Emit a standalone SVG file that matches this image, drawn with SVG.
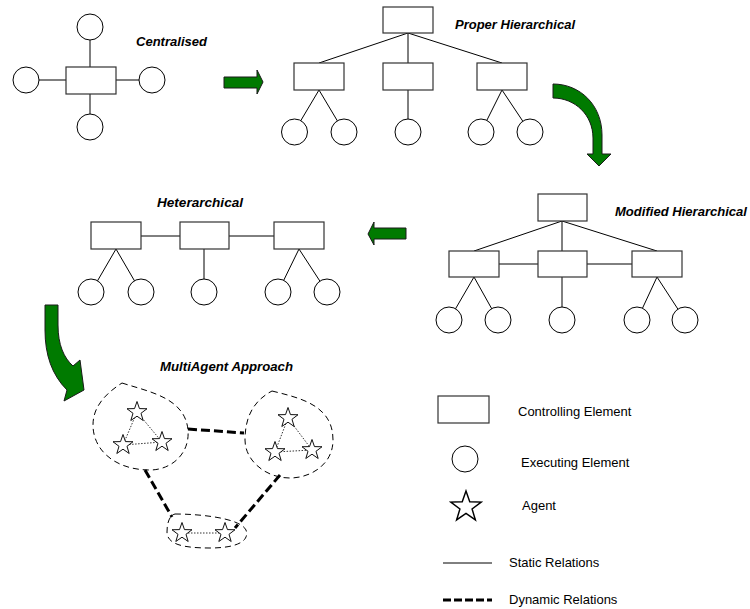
<svg xmlns="http://www.w3.org/2000/svg" width="750" height="609" viewBox="0 0 750 609">
<style>
  .ctl { fill: #fff; stroke: #333; stroke-width: 1.2; }
  .exe { fill: #fff; stroke: #000; stroke-width: 1; }
  .rel { stroke: #000; stroke-width: 1; fill: none; }
  .dyn { stroke: #000; stroke-width: 3; stroke-dasharray: 9 4; fill: none; }
  .grp { stroke: #000; stroke-width: 1; stroke-dasharray: 6 4; fill: none; }
  .dot { stroke: #000; stroke-width: 0.8; stroke-dasharray: 1.5 1.5; fill: none; }
  .agent { fill: #fff; stroke: #000; stroke-width: 0.9; }
  .flow { fill: #007a00; stroke: #1a1a1a; stroke-width: 1; }
  .title { font-family: "Liberation Sans", Arial, sans-serif; font-size: 13px; font-weight: bold; font-style: italic; fill: #000; }
  .lbl { font-family: "Liberation Sans", Arial, sans-serif; font-size: 13px; fill: #000; }
</style>
<defs>
  <polygon id="star" points="0,-10 2.35,-3.24 9.51,-3.09 3.8,1.24 5.88,8.09 0,4 -5.88,8.09 -3.8,1.24 -9.51,-3.09 -2.35,-3.24"/>
</defs>

<!-- static relations (drawn under the elements) -->
<g id="connectors">
  <!-- centralised -->
  <line class="rel" x1="90" y1="40" x2="90" y2="67"/>
  <line class="rel" x1="90" y1="94" x2="90" y2="114"/>
  <line class="rel" x1="39" y1="80" x2="66" y2="80"/>
  <line class="rel" x1="116" y1="80" x2="139" y2="80"/>
  <!-- proper hierarchical -->
  <line class="rel" x1="408" y1="33" x2="319" y2="63"/>
  <line class="rel" x1="408" y1="33" x2="408" y2="63"/>
  <line class="rel" x1="408" y1="33" x2="502" y2="63"/>
  <line class="rel" x1="319" y1="90" x2="294" y2="132"/>
  <line class="rel" x1="319" y1="90" x2="344" y2="132"/>
  <line class="rel" x1="408" y1="90" x2="408" y2="132"/>
  <line class="rel" x1="502" y1="90" x2="481" y2="132"/>
  <line class="rel" x1="502" y1="90" x2="530" y2="132"/>
  <!-- modified hierarchical -->
  <line class="rel" x1="562" y1="221" x2="474" y2="251"/>
  <line class="rel" x1="562" y1="221" x2="562" y2="251"/>
  <line class="rel" x1="562" y1="221" x2="657" y2="251"/>
  <line class="rel" x1="499" y1="264" x2="538" y2="264"/>
  <line class="rel" x1="587" y1="264" x2="632" y2="264"/>
  <line class="rel" x1="474" y1="277" x2="449" y2="320"/>
  <line class="rel" x1="474" y1="277" x2="498" y2="320"/>
  <line class="rel" x1="562" y1="277" x2="562" y2="320"/>
  <line class="rel" x1="657" y1="277" x2="637" y2="320"/>
  <line class="rel" x1="657" y1="277" x2="685" y2="320"/>
  <!-- heterarchical -->
  <line class="rel" x1="141" y1="236" x2="180" y2="236"/>
  <line class="rel" x1="229" y1="236" x2="274" y2="236"/>
  <line class="rel" x1="116" y1="249" x2="91" y2="292"/>
  <line class="rel" x1="116" y1="249" x2="141" y2="292"/>
  <line class="rel" x1="204" y1="249" x2="204" y2="292"/>
  <line class="rel" x1="299" y1="249" x2="278" y2="292"/>
  <line class="rel" x1="299" y1="249" x2="327" y2="292"/>
  <!-- multi-agent: dynamic relations between groups -->
  <line class="dyn" x1="188" y1="429" x2="244" y2="433"/>
  <line class="dyn" x1="145" y1="470" x2="172" y2="517"/>
  <line class="dyn" x1="280" y1="475" x2="235" y2="528"/>
  <!-- multi-agent: links inside groups -->
  <polyline class="dot" points="137,412 123,445 162,442 137,412"/>
  <polyline class="dot" points="288,418 275,452 312,450 288,418"/>
  <line class="dot" x1="182" y1="533" x2="225" y2="533"/>
</g>

<!-- centralised -->
<g id="centralised">
  <rect class="ctl" x="66" y="67" width="50" height="27"/>
  <circle class="exe" cx="90" cy="27" r="13"/>
  <circle class="exe" cx="90" cy="127" r="13"/>
  <circle class="exe" cx="26" cy="80" r="13"/>
  <circle class="exe" cx="152" cy="80" r="13"/>
  <text class="title" x="136" y="46" textLength="71" lengthAdjust="spacingAndGlyphs">Centralised</text>
</g>

<!-- proper hierarchical -->
<g id="proper-hierarchical">
  <rect class="ctl" x="383" y="7" width="50" height="26"/>
  <rect class="ctl" x="294" y="63" width="50" height="27"/>
  <rect class="ctl" x="383" y="63" width="50" height="27"/>
  <rect class="ctl" x="477" y="63" width="50" height="27"/>
  <circle class="exe" cx="294.5" cy="132" r="13"/>
  <circle class="exe" cx="344" cy="132" r="13"/>
  <circle class="exe" cx="408" cy="132" r="13"/>
  <circle class="exe" cx="481" cy="132" r="13"/>
  <circle class="exe" cx="530" cy="132" r="13"/>
  <text class="title" x="455" y="29" textLength="120" lengthAdjust="spacingAndGlyphs">Proper Hierarchical</text>
</g>

<!-- modified hierarchical -->
<g id="modified-hierarchical">
  <rect class="ctl" x="538" y="194" width="49" height="27"/>
  <rect class="ctl" x="449" y="251" width="50" height="26"/>
  <rect class="ctl" x="538" y="251" width="49" height="26"/>
  <rect class="ctl" x="632" y="251" width="50" height="26"/>
  <circle class="exe" cx="449" cy="320" r="13"/>
  <circle class="exe" cx="498" cy="320" r="13"/>
  <circle class="exe" cx="562" cy="320" r="13"/>
  <circle class="exe" cx="637" cy="320" r="13"/>
  <circle class="exe" cx="685" cy="320" r="13"/>
  <text class="title" x="615" y="216" textLength="132" lengthAdjust="spacingAndGlyphs">Modified Hierarchical</text>
</g>

<!-- heterarchical -->
<g id="heterarchical">
  <rect class="ctl" x="91" y="222" width="50" height="27"/>
  <rect class="ctl" x="180" y="222" width="49" height="27"/>
  <rect class="ctl" x="274" y="222" width="50" height="27"/>
  <circle class="exe" cx="91" cy="292" r="13"/>
  <circle class="exe" cx="141" cy="292" r="13"/>
  <circle class="exe" cx="204" cy="292" r="13"/>
  <circle class="exe" cx="278" cy="292" r="13"/>
  <circle class="exe" cx="327" cy="292" r="13"/>
  <text class="title" x="157" y="207" textLength="86" lengthAdjust="spacingAndGlyphs">Heterarchical</text>
</g>

<!-- multi-agent approach -->
<g id="multiagent">
  <path class="grp" d="M122,383 C150,392 185,398 188,430 C190,455 170,470 150,470 C115,470 93,450 93,425 C93,405 108,392 122,383 Z"/>
  <path class="grp" d="M272,391 C300,398 333,405 333,440 C333,465 310,478 290,478 C265,478 245,460 245,440 C245,415 255,400 272,391 Z"/>
  <path class="grp" d="M175,514 C200,514 240,518 246,530 C250,542 235,548 210,548 C185,548 167,545 167,532 C167,522 170,515 175,514 Z"/>
  <use href="#star" class="agent" transform="translate(137,412) scale(1.05)"/>
  <use href="#star" class="agent" transform="translate(123,445) scale(1.05)"/>
  <use href="#star" class="agent" transform="translate(162,442) scale(1.05)"/>
  <use href="#star" class="agent" transform="translate(288,418) scale(1.05)"/>
  <use href="#star" class="agent" transform="translate(275,452) scale(1.05)"/>
  <use href="#star" class="agent" transform="translate(312,450) scale(1.05)"/>
  <use href="#star" class="agent" transform="translate(182,533) scale(1.05)"/>
  <use href="#star" class="agent" transform="translate(225,533) scale(1.05)"/>
  <text class="title" x="160" y="371" textLength="133" lengthAdjust="spacingAndGlyphs">MultiAgent Approach</text>
</g>

<!-- transition arrows -->
<g id="flow-arrows">
  <path class="flow" d="M224,77 L257,77 L257,70 L263,82 L257,94 L257,88 L224,88 Z"/>
  <path class="flow" d="M553,84 C580,84 602,105 602,135 L602,154 L611,154 L599,166 L587,154 L593,154 L593,138 C593,115 575,98 553,98 Z"/>
  <path class="flow" d="M406,228 L374,228 L374,222 L368,234 L374,245 L374,239 L406,239 Z"/>
  <path class="flow" d="M45,305 L58,305 L58,325 C58,345 64,358 73,366 L80,360 L84,390 L64,401 L67,390 C52,375 45,355 45,330 Z"/>
</g>

<!-- legend -->
<g id="legend">
  <rect class="ctl" x="438" y="396" width="51" height="27"/>
  <text class="lbl" x="518" y="416">Controlling Element</text>
  <circle class="exe" cx="465" cy="459" r="13"/>
  <text class="lbl" x="521" y="467">Executing Element</text>
  <use href="#star" class="agent" transform="translate(466,507) scale(1.6)"/>
  <text class="lbl" x="522" y="510">Agent</text>
  <line class="rel" x1="443" y1="563" x2="492" y2="563"/>
  <text class="lbl" x="509" y="567">Static Relations</text>
  <line x1="443" y1="600" x2="492" y2="600" stroke="#000" stroke-width="3" stroke-dasharray="8 3"/>
  <text class="lbl" x="509" y="604">Dynamic Relations</text>
</g>
</svg>
